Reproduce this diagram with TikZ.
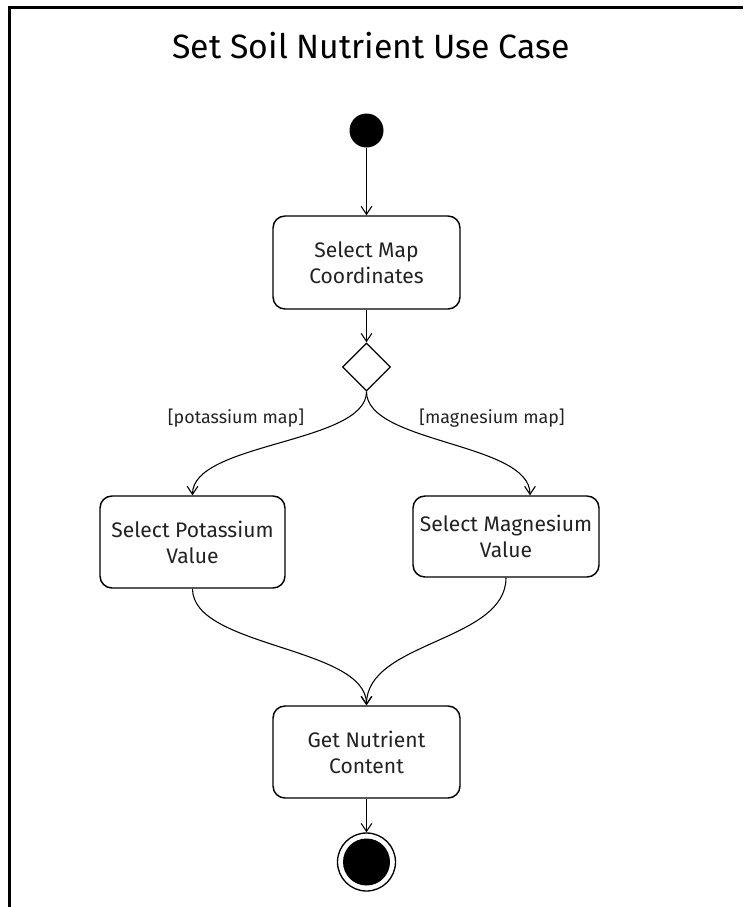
\documentclass[tikz,border=0pt]{standalone}
\usepackage{fontspec}
\setmainfont{Fira Sans}
\usetikzlibrary{arrows.meta,shapes.geometric}

\definecolor{inkgray}{HTML}{222222}

\tikzset{
  action/.style={draw=black, line width=1.1pt, rounded corners=9pt, fill=white,
    align=center, text=inkgray, font=\fontsize{15.8}{19.5}\selectfont,
    minimum width={187*0.75pt}, inner sep=0pt},
  flow/.style={draw=black, line width=0.8pt,
    -{Straight Barb[length=6pt,width=8pt,line width=0.8pt]}},
  guard/.style={text=inkgray, font=\fontsize{13.4}{15}\selectfont, inner sep=0pt},
  frameline/.style={draw=black, line width=2pt},
}

\begin{document}
\begin{tikzpicture}[x=0.75pt, y=-0.75pt]
  \useasboundingbox (0,0) rectangle (743,907);

  % outer frame (left and top edges)
  \draw[frameline] (9.7,907) -- (9.7,7.8) -- (743,7.8);

  % title
  \node[font=\fontsize{25.3}{30}\selectfont, anchor=base, inner sep=0pt] (title)
    at (371,58) {Set Soil Nutrient Use Case};

  % initial node
  \node[circle, fill=black, minimum size={34*0.75pt}, inner sep=0pt] (start) at (366.5,130.5) {};

  % actions
  \node[action, minimum height={93*0.75pt}] (coords) at (366.5,262.5)
    {Select Map\\Coordinates};
  \node[diamond, draw=black, line width=1pt, fill=white, minimum width={48*0.75pt},
    minimum height={48*0.75pt}, inner sep=0pt, aspect=1] (choice) at (366.5,367) {};
  \node[action, minimum width={185*0.75pt}, minimum height={92*0.75pt}] (potassium) at (192.5,542)
    {Select Potassium\\Value};
  \node[action, minimum width={186*0.75pt}, minimum height={81*0.75pt}] (magnesium) at (506,536.5)
    {Select Magnesium\\Value};
  \node[action, minimum height={92*0.75pt}] (content) at (366.5,752)
    {Get Nutrient\\Content};

  % final node
  \node[circle, draw=black, line width=1pt, fill=white, minimum size={58*0.75pt}, inner sep=0pt]
    (final) at (366.5,862) {};
  \node[circle, fill=black, minimum size={47*0.75pt}, inner sep=0pt] (finaldot) at (final.center) {};

  % guards
  \node[guard] (gpot) at (236,418) {[potassium map]};
  \node[guard] (gmag) at (492,418) {[magnesium map]};

  % transitions
  \draw[flow] (start) -- (coords);
  \draw[flow] (coords) -- (choice.north);
  \draw[flow] (choice.south) .. controls +(0,52) and +(0,-53) .. (potassium.north);
  \draw[flow] (choice.south) .. controls +(0,52) and +(0,-53) .. (magnesium.north -| 530,0);
  \draw[flow] (potassium.south) .. controls +(0,59) and +(0,-59) .. (content.north);
  \draw[flow] (magnesium.south) .. controls +(0,64) and +(0,-64) .. (content.north);
  \draw[flow] (content.south) -- (final.north);
\end{tikzpicture}
\end{document}
